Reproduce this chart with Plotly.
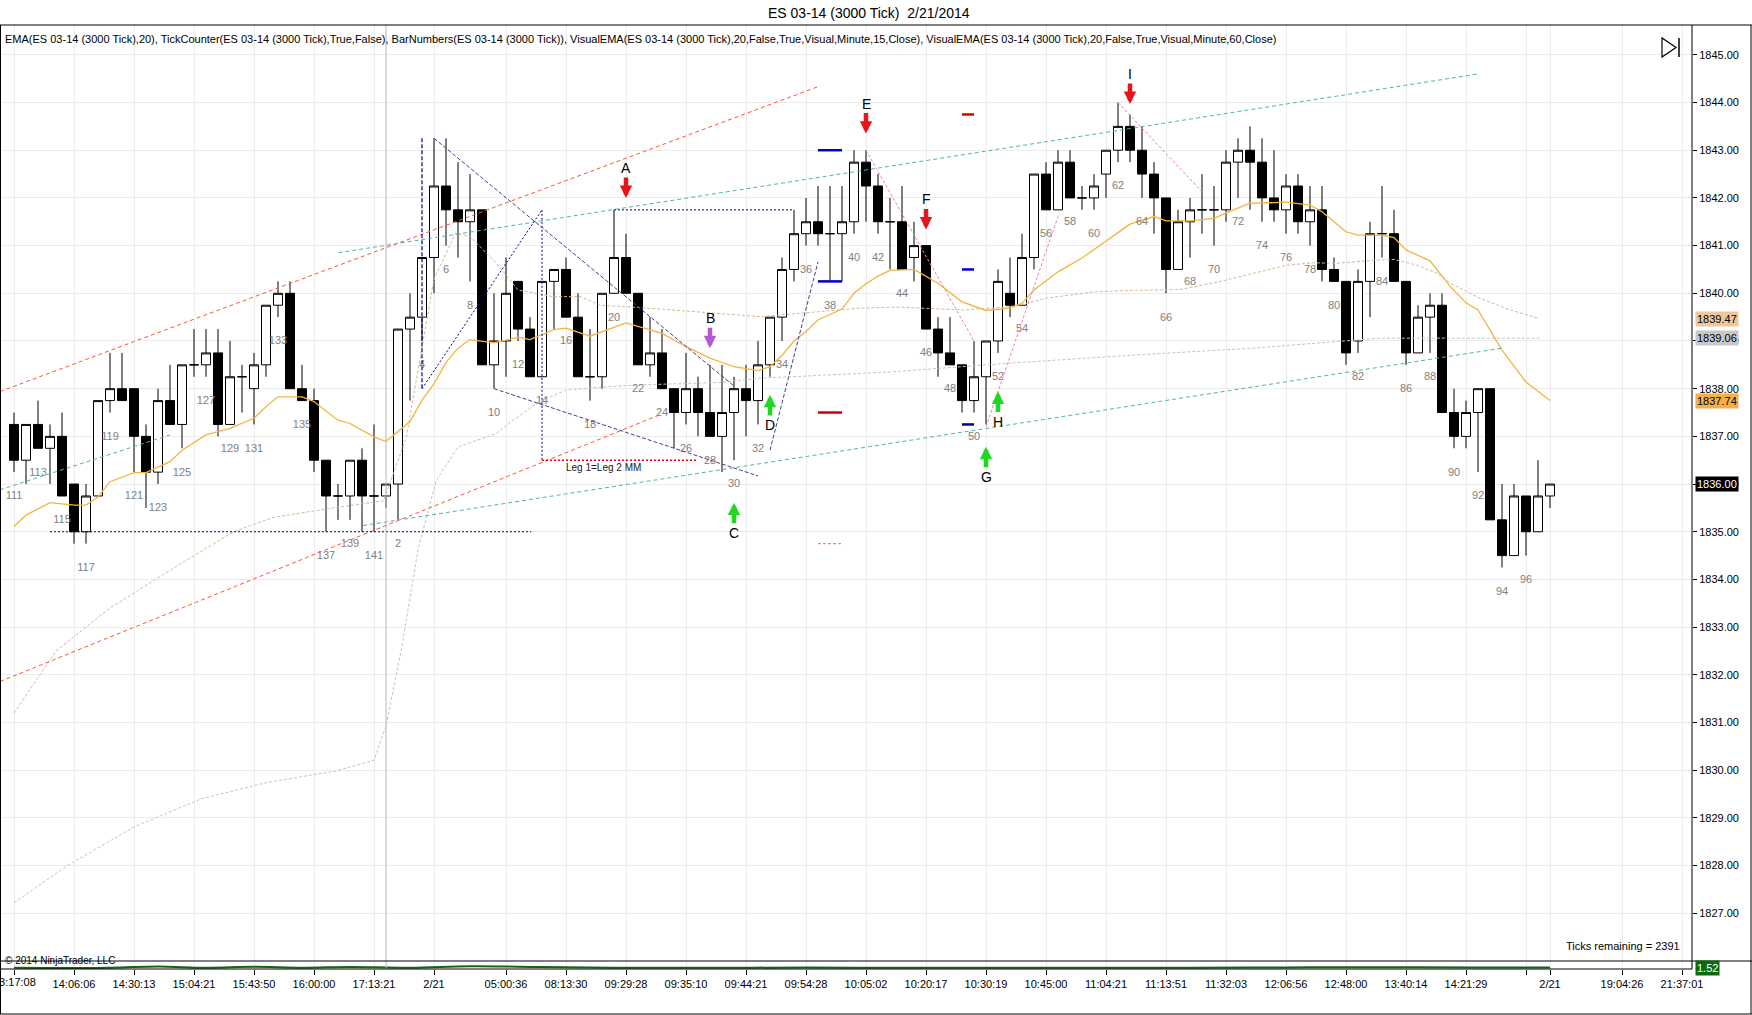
import plotly.graph_objects as go

# ---------------- data ----------------
bars = list(range(111, 142)) + list(range(1, 99))

opens = [1837.25, 1836.5, 1837.25, 1836.75, 1837.0, 1836.0, 1835.0, 1835.75, 1837.75, 1838.0,
         1838.0, 1837.0, 1836.25, 1837.75, 1837.25, 1838.5, 1838.5, 1838.75, 1837.25, 1838.25,
         1838.0, 1838.5, 1839.75, 1840.0, 1838.0, 1837.75, 1836.5, 1835.75, 1835.75, 1836.5, 1835.75,
         1835.75, 1836.0, 1839.25, 1839.5, 1840.75, 1842.25, 1841.75, 1841.5, 1841.75, 1838.5,
         1839.0, 1840.25, 1839.25, 1838.25, 1840.25, 1840.5, 1839.5, 1838.25, 1838.25, 1840.0,
         1840.75, 1840.0, 1838.5, 1838.75, 1838.0, 1837.5, 1838.0, 1837.5, 1837.0, 1837.5,
         1838.0, 1837.75, 1838.5, 1839.5, 1840.5, 1841.25, 1841.5, 1841.25, 1841.25, 1841.5,
         1842.75, 1842.25, 1841.5, 1841.5, 1840.75, 1841.0, 1839.25, 1838.75, 1838.5, 1837.75,
         1838.25, 1839.0, 1840.0, 1839.75, 1840.75, 1842.5, 1841.75, 1842.75, 1842.0, 1842.0,
         1842.5, 1843.0, 1843.5, 1843.0, 1842.5, 1842.0, 1840.5, 1841.5, 1841.75, 1841.75,
         1841.75, 1842.75, 1843.0, 1842.75, 1842.0, 1841.75, 1842.25, 1841.5, 1841.75, 1840.5,
         1840.25, 1839.0, 1840.25, 1841.25, 1841.25, 1840.25, 1838.75, 1839.5, 1839.75, 1837.5,
         1837.0, 1837.5, 1838.0, 1835.25, 1834.5, 1835.75, 1835.0, 1835.75]

highs = [1837.5, 1837.25, 1837.75, 1837.25, 1837.5, 1836.0, 1836.0, 1837.75, 1838.75, 1838.75,
         1838.0, 1837.25, 1838.0, 1838.5, 1838.5, 1839.25, 1839.25, 1839.25, 1839.0, 1838.5,
         1838.75, 1839.75, 1840.25, 1840.25, 1838.5, 1838.0, 1836.5, 1836.0, 1836.5, 1836.75, 1837.25,
         1836.0, 1839.25, 1840.0, 1840.75, 1843.25, 1843.25, 1842.75, 1842.5, 1841.75, 1840.0,
         1840.75, 1840.25, 1839.5, 1840.25, 1840.5, 1840.75, 1840.0, 1839.25, 1840.0, 1841.75,
         1841.25, 1840.0, 1839.5, 1839.25, 1838.0, 1838.75, 1838.25, 1838.5, 1838.5, 1838.25,
         1838.5, 1839.0, 1839.5, 1840.75, 1841.75, 1842.0, 1842.25, 1842.25, 1842.25, 1843.0,
         1843.0, 1842.5, 1842.0, 1842.25, 1841.5, 1841.0, 1839.5, 1839.5, 1838.5, 1839.0,
         1839.0, 1840.5, 1840.75, 1841.25, 1842.5, 1842.75, 1843.0, 1843.0, 1842.25, 1842.5,
         1843.0, 1844.0, 1843.75, 1843.5, 1842.75, 1842.0, 1841.75, 1842.0, 1842.5, 1842.25,
         1843.0, 1843.25, 1843.5, 1843.25, 1843.0, 1842.5, 1842.5, 1842.25, 1842.25, 1840.75,
         1840.25, 1840.5, 1841.5, 1842.25, 1841.75, 1840.25, 1839.75, 1840.0, 1840.0, 1838.0,
         1837.75, 1838.0, 1838.0, 1836.0, 1836.0, 1835.75, 1836.5, 1836.0]

lows = [1836.25, 1836.0, 1836.75, 1836.0, 1835.75, 1834.75, 1834.75, 1835.75, 1837.5, 1837.75,
        1836.25, 1835.5, 1836.0, 1837.25, 1836.75, 1838.25, 1838.25, 1837.0, 1837.25, 1837.5,
        1837.25, 1838.25, 1839.5, 1838.0, 1837.75, 1836.25, 1835.0, 1835.25, 1835.25, 1835.0, 1835.0,
        1835.5, 1835.25, 1837.75, 1839.0, 1840.0, 1841.0, 1840.75, 1840.25, 1838.5, 1838.0,
        1838.25, 1839.0, 1838.25, 1838.25, 1839.25, 1839.5, 1838.25, 1837.75, 1838.0, 1840.0,
        1840.0, 1838.5, 1838.25, 1838.0, 1836.75, 1837.25, 1837.0, 1837.0, 1836.25, 1836.5,
        1837.0, 1837.25, 1838.25, 1839.0, 1840.25, 1841.0, 1841.0, 1840.25, 1840.25, 1841.25,
        1841.5, 1841.25, 1840.5, 1840.5, 1840.25, 1839.25, 1838.25, 1838.5, 1837.5, 1837.5,
        1837.25, 1838.75, 1839.5, 1839.75, 1840.5, 1841.75, 1841.75, 1842.0, 1841.75, 1841.75,
        1842.0, 1842.75, 1842.75, 1842.0, 1841.25, 1840.0, 1840.5, 1840.75, 1841.25, 1841.0,
        1841.5, 1842.0, 1841.75, 1841.5, 1841.5, 1841.25, 1841.25, 1841.0, 1840.25, 1840.25,
        1838.5, 1838.75, 1839.5, 1840.75, 1840.25, 1838.5, 1838.75, 1838.75, 1837.5, 1836.75,
        1836.75, 1836.25, 1835.25, 1834.25, 1834.5, 1834.5, 1835.0, 1835.5]

closes = [1836.5, 1837.25, 1836.75, 1837.0, 1835.75, 1835.0, 1835.75, 1837.75, 1838.0, 1837.75,
          1837.0, 1836.25, 1837.75, 1837.25, 1838.5, 1838.5, 1838.75, 1837.25, 1838.25, 1838.25,
          1838.5, 1839.75, 1840.0, 1838.0, 1837.75, 1836.5, 1835.75, 1835.75, 1836.5, 1835.75, 1835.75,
          1836.0, 1839.25, 1839.5, 1840.75, 1842.25, 1841.75, 1841.5, 1841.75, 1838.5, 1839.0,
          1840.0, 1839.25, 1838.25, 1840.25, 1840.5, 1839.5, 1838.25, 1838.25, 1840.0, 1840.75,
          1840.0, 1838.5, 1838.75, 1838.0, 1837.5, 1838.0, 1837.5, 1837.0, 1837.5, 1838.0,
          1837.75, 1838.5, 1839.5, 1840.5, 1841.25, 1841.5, 1841.25, 1841.25, 1841.5, 1842.75,
          1842.25, 1841.5, 1841.5, 1840.5, 1841.0, 1839.25, 1838.75, 1838.5, 1837.75, 1838.25,
          1839.0, 1840.25, 1839.75, 1840.75, 1842.5, 1841.75, 1842.75, 1842.0, 1842.0, 1842.25,
          1843.0, 1843.5, 1843.0, 1842.5, 1842.0, 1840.5, 1841.5, 1841.75, 1841.75, 1841.75,
          1842.75, 1843.0, 1842.75, 1842.0, 1841.75, 1842.25, 1841.5, 1841.75, 1840.5, 1840.25,
          1838.75, 1840.25, 1841.25, 1841.25, 1840.25, 1838.75, 1839.5, 1839.75, 1837.5, 1837.0,
          1837.5, 1838.0, 1835.25, 1834.5, 1835.75, 1835.0, 1835.75, 1836.0]

# bar numbers printed under the bars
labelled_bars = list(range(111, 142, 2)) + list(range(2, 97, 2))

# EMA(20) (bar position, value)
ema_pos = [0, 1, 3, 5, 6, 7, 8, 10, 11, 13, 14, 16, 18, 20, 21, 22, 24, 25, 27, 28,
           30, 31, 33, 34, 35, 36, 37, 38, 40, 42, 43, 45, 46, 48, 51, 53, 54, 56, 58, 60,
           62, 63, 64, 65, 66, 67, 69, 70, 71, 72, 73, 75, 77, 79, 81, 83, 84, 85, 87, 89,
           91.6, 93, 95, 96, 98, 100, 101, 103, 105, 106, 108, 109, 111, 112, 114, 115, 116, 118, 119.7, 121,
           122, 124, 126, 128]
ema_val = [1835.11, 1835.35, 1835.61, 1835.56, 1835.56, 1835.73, 1836.05, 1836.24, 1836.24, 1836.47,
           1836.71, 1837.03, 1837.17, 1837.38, 1837.62, 1837.83, 1837.83, 1837.73, 1837.34, 1837.27,
           1836.99, 1836.89, 1837.31, 1837.76, 1838.1, 1838.55, 1838.85, 1839.03, 1838.96, 1839.08,
           1839.03, 1839.24, 1839.27, 1839.10, 1839.38, 1839.24, 1839.16, 1838.88, 1838.64, 1838.46,
           1838.38, 1838.46, 1838.70, 1839.0, 1839.2, 1839.44, 1839.67, 1840.0, 1840.2, 1840.36,
           1840.48, 1840.5, 1840.21, 1839.82, 1839.64, 1839.69, 1839.79, 1840.07, 1840.45, 1840.74,
           1841.19, 1841.45, 1841.61, 1841.52, 1841.52, 1841.57, 1841.68, 1841.89, 1841.90, 1841.91,
           1841.85, 1841.71, 1841.29, 1841.22, 1841.22, 1841.17, 1840.91, 1840.68, 1840.14, 1839.80,
           1839.65, 1838.81, 1838.14, 1837.75]

# VisualEMA 15 minute
ema15_pos = [0, 3.5, 8, 13.7, 18.3, 21.6, 26.6, 30.8, 32.7, 33.8, 35, 36.8, 38, 40.2, 42,
             44.9, 47.2, 48.8, 51, 54.9, 58.8, 62.2, 65.5, 70.5, 73.8, 79.1, 83.3, 86.1, 90, 93,
             97.2, 100.4, 103.3, 106.1, 108.3, 110.2, 113.8, 115, 116.9, 118.6, 119.7, 122.2, 124.7, 127.1]
ema15_val = [1831.2, 1832.5, 1833.4, 1834.3, 1835.0, 1835.3, 1835.5, 1835.65, 1836.99, 1838.6,
             1840.3, 1841.26, 1841.19, 1840.63, 1840.07, 1839.93, 1839.93, 1839.75, 1839.72, 1839.65,
             1839.58, 1839.51, 1839.58, 1839.69, 1839.71, 1839.65, 1839.72, 1839.9, 1840.03, 1840.06,
             1840.08, 1840.24, 1840.42, 1840.59, 1840.64, 1840.63, 1840.70, 1840.71, 1840.59, 1840.42,
             1840.21, 1839.89, 1839.65, 1839.47]

# VisualEMA 60 minute
ema60_pos = [0, 4.4, 10, 15.6, 21.2, 26.8, 30, 31, 32.3, 33.7, 35.2, 37, 40.2, 41.6, 43.8,
             46, 48.8, 52.2, 58.8, 62.2, 73, 82.7, 93, 103.3, 113.8, 127.1]
ema60_val = [1827.22, 1827.99, 1828.81, 1829.4, 1829.75, 1829.98, 1830.21, 1830.93, 1832.56, 1834.67,
             1836.08, 1836.78, 1837.06, 1837.34, 1837.73, 1837.97, 1838.03, 1838.08, 1838.13, 1838.22,
             1838.35, 1838.53, 1838.7, 1838.85, 1839.06, 1839.06]

# lower (TickCounter-like) panel line
low_pos = [0, 8, 12, 16, 20, 24, 28, 33, 38, 44, 50, 58, 66, 74, 82, 90, 98, 106, 114, 122, 128]
low_val = [1.50, 1.50, 1.60, 1.50, 1.58, 1.50, 1.57, 1.50, 1.62, 1.56, 1.50, 1.50, 1.52, 1.50,
           1.51, 1.50, 1.50, 1.53, 1.55, 1.52, 1.52]

# drawn trend lines: (bar0, price0, bar1, price1)
trend_lines = [
    (-1.17, 1837.94, 67.08, 1844.34),
    (-1.17, 1831.86, 54.0, 1837.47),
    (27.04, 1840.85, 122.0, 1844.60),
    (29.08, 1835.13, 124.0, 1838.85),
    (-1.17, 1835.88, 13.0, 1837.03),
    (3.0, 1835.0, 43.1, 1835.0),
    (50.0, 1841.75, 65.0, 1841.75),
    (44.0, 1841.75, 44.0, 1836.5),
    (34.0, 1843.25, 34.0, 1838.0),
    (34.0, 1838.0, 44.0, 1841.75),
    (44.0, 1836.5, 57.0, 1836.5),
    (35.0, 1843.25, 60.08, 1838.04),
    (40.0, 1838.0, 62.0, 1836.17),
    (63.0, 1836.71, 67.0, 1840.66),
    (71.0, 1843.0, 80.0, 1839.0),
    (81.0, 1837.2, 87.0, 1841.61),
    (92.0, 1844.0, 99.0, 1842.13),
    (67.0, 1843.0, 69.0, 1843.0),
    (67.0, 1840.25, 69.0, 1840.25),
    (67.0, 1837.5, 69.0, 1837.5),
    (67.0, 1834.75, 69.0, 1834.75),
    (79.0, 1843.75, 80.0, 1843.75),
    (79.0, 1840.5, 80.0, 1840.5),
    (79.0, 1837.25, 80.0, 1837.25),
]
trend_styles = [
    ('#ff5533', 1, '4px,3px'), ('#ff5533', 1, '4px,3px'),
    ('#55b0b0', 1, '4px,3px'), ('#55b0b0', 1, '4px,3px'), ('#55b0b0', 1, '4px,3px'),
    ('#000080', 1, '2px,2px'), ('#000080', 1, '2px,2px'), ('#000080', 1, '2px,2px'),
    ('#000080', 1.2, '4px,2px'), ('#000080', 1, '2px,2px'), ('#ff0000', 1.5, '2px,2px'),
    ('#483d8b', 1, '4px,2px'), ('#483d8b', 1, '4px,2px'), ('#483d8b', 1, '4px,2px'),
    ('#f07cc0', 1, '3px,2px'), ('#f07cc0', 1, '3px,2px'), ('#f07cc0', 1, '3px,2px'),
    ('#0000cd', 2.5, 'solid'), ('#0000cd', 2.5, 'solid'), ('#cc0000', 2.5, 'solid'),
    ('#f07cc0', 1.2, '3px,2px'),
    ('#dd0000', 2.5, 'solid'), ('#0000cd', 2.5, 'solid'), ('#000080', 2.5, 'solid'),
]

# signal arrows
sig_letters = ['A', 'B', 'C', 'D', 'E', 'F', 'G', 'H', 'I']
sig_bar = [51, 58, 60, 63, 71, 76, 81, 82, 93]
sig_price = [1842.0, 1838.85, 1835.61, 1837.87, 1843.35, 1841.34, 1836.78, 1837.94, 1843.97]
sig_dir = ['down', 'down', 'up', 'up', 'down', 'down', 'up', 'up', 'down']
sig_color = ['#e8141c', '#b05cd0', '#22d622', '#22d622', '#e8141c', '#e8141c', '#22d622', '#22d622', '#e8141c']

x_tick_pos = [0, 5, 10, 15, 20, 25, 30, 35, 41, 46, 51, 56, 61, 66, 71, 76, 81, 86, 91, 96,
              101, 106, 111, 116, 121, 126, 128, 134, 139]
x_tick_text = ['13:17:08', '14:06:06', '14:30:13', '15:04:21', '15:43:50', '16:00:00', '17:13:21',
               '2/21', '05:00:36', '08:13:30', '09:29:28', '09:35:10', '09:44:21', '09:54:28',
               '10:05:02', '10:20:17', '10:30:19', '10:45:00', '11:04:21', '11:13:51', '11:32:03',
               '12:06:56', '12:48:00', '13:40:14', '14:21:29', '', '2/21', '19:04:26', '21:37:01']

price_ticks = list(range(1827, 1846))

axis_tags = [1839.47, 1839.06, 1837.74, 1836.00]
axis_tag_bg = ['#eec89c', '#c8c8c8', '#f3b04a', '#000000']
axis_tag_fg = ['black', 'black', 'black', 'white']
session_break_bar = 31

# ---------------- figure ----------------
W, H = 1752, 1015
PL, PR, PT, PB = 0, 1692, 25, 969
PW, PH = PR - PL, PB - PT
FONT = 'Liberation Sans, Arial, sans-serif'


def fx(x):
    return (x - PL) / PW


def fy(y):
    return (PB - y) / PH


xi = list(range(len(bars)))
fig = go.Figure()

fig.add_trace(go.Scatter(x=ema60_pos, y=ema60_val, mode='lines',
                         line=dict(color='#c4c4c4', width=1, dash='3px,2px'),
                         hoverinfo='skip', showlegend=False))
fig.add_trace(go.Scatter(x=ema15_pos, y=ema15_val, mode='lines',
                         line=dict(color='#d8b894', width=1, dash='3px,2px'),
                         hoverinfo='skip', showlegend=False))

fig.add_trace(go.Candlestick(
    x=xi, open=opens, high=highs, low=lows, close=closes,
    increasing=dict(line=dict(color='black', width=1), fillcolor='white'),
    decreasing=dict(line=dict(color='black', width=1), fillcolor='black'),
    whiskerwidth=0, hoverinfo='skip', showlegend=False))

fig.add_trace(go.Scatter(x=ema_pos, y=ema_val, mode='lines',
                         line=dict(color='#f2b440', width=1.3),
                         hoverinfo='skip', showlegend=False))

# bar numbers
lab_x, lab_y, lab_t = [], [], []
for k, b in enumerate(bars):
    if b in labelled_bars and not (k > 30 and b > 100):
        lab_x.append(k)
        lab_y.append(lows[k] - 24.5 / 47.69)
        lab_t.append(str(b))
fig.add_trace(go.Scatter(x=lab_x, y=lab_y, text=lab_t, mode='text',
                         textfont=dict(family=FONT, size=11, color='#808080'),
                         hoverinfo='skip', showlegend=False))

for (b0, p0, b1, p1), (c, w, d) in zip(trend_lines, trend_styles):
    fig.add_trace(go.Scatter(x=[b0, b1], y=[p0, p1], mode='lines',
                             line=dict(color=c, width=w, dash=d),
                             hoverinfo='skip', showlegend=False))

fig.add_trace(go.Scatter(x=low_pos, y=low_val, mode='lines', xaxis='x', yaxis='y2',
                         line=dict(color='#0b6b0b', width=2, shape='spline'),
                         hoverinfo='skip', showlegend=False))

annotations = []
for L, b, p, d, c in zip(sig_letters, sig_bar, sig_price, sig_dir, sig_color):
    annotations.append(dict(x=b, y=p, xref='x', yref='y', text=L, showarrow=True,
                            ax=0, ay=(-30 if d == 'down' else 30),
                            arrowhead=2, arrowsize=0.55, arrowwidth=4.5, arrowcolor=c,
                            standoff=0, startstandoff=0,
                            font=dict(family=FONT, size=14, color='black')))

annotations.append(dict(x=49.1, y=1836.34, xref='x', yref='y', text='Leg 1=Leg 2 MM',
                        showarrow=False, font=dict(family=FONT, size=10, color='#202020')))

for v, bg, fg in zip(axis_tags, axis_tag_bg, axis_tag_fg):
    annotations.append(dict(x=1.0, xref='paper', xanchor='left', xshift=3, y=v, yref='y',
                            yanchor='middle', text='%.2f' % v, showarrow=False, bgcolor=bg,
                            borderpad=1, font=dict(family=FONT, size=11, color=fg)))
annotations.append(dict(x=1.0, xref='paper', xanchor='left', xshift=3, y=1.52, yref='y2',
                        yanchor='middle', text='1.52', showarrow=False, bgcolor='#0b6b0b',
                        borderpad=1, font=dict(family=FONT, size=11, color='white')))

annotations.append(dict(x=fx(869), y=fy(13), xref='paper', yref='paper', showarrow=False,
                        xanchor='center', yanchor='middle',
                        text='ES 03-14 (3000 Tick)\u00a0\u00a02/21/2014',
                        font=dict(family=FONT, size=14, color='black')))
annotations.append(dict(x=fx(3), y=fy(39), xref='paper', yref='paper', xanchor='left',
                        yanchor='middle', showarrow=False,
                        text='EMA(ES 03-14 (3000 Tick),20), TickCounter(ES 03-14 (3000 Tick),True,False), '
                             'BarNumbers(ES 03-14 (3000 Tick)), VisualEMA(ES 03-14 (3000 Tick),20,False,True,'
                             'Visual,Minute,15,Close), VisualEMA(ES 03-14 (3000 Tick),20,False,True,Visual,'
                             'Minute,60,Close)',
                        font=dict(family=FONT, size=11, color='black')))
annotations.append(dict(x=fx(1682), y=fy(946), xref='paper', yref='paper', xanchor='right',
                        yanchor='middle', showarrow=False, text='Ticks remaining = 2391',
                        font=dict(family=FONT, size=11, color='black')))
annotations.append(dict(x=fx(3), y=fy(960), xref='paper', yref='paper', xanchor='left',
                        yanchor='middle', showarrow=False, text='\u00a9 2014 NinjaTrader, LLC',
                        font=dict(family=FONT, size=10, color='black')))
# first time label, partly cut by the left edge of the chart
annotations.append(dict(x=x_tick_pos[0], xref='x', y=fy(982), yref='paper', xanchor='center',
                        yanchor='middle', showarrow=False, text=x_tick_text[0],
                        font=dict(family=FONT, size=11, color='black')))
x_tick_text_axis = [''] + x_tick_text[1:]

shapes = [
    dict(type='line', xref='x', yref='paper', x0=session_break_bar, x1=session_break_bar,
         y0=0, y1=1, line=dict(color='#b8b8b8', width=1)),
    dict(type='line', xref='paper', yref='paper', x0=0, x1=fx(W), y0=1, y1=1,
         line=dict(color='black', width=1)),
    dict(type='line', xref='paper', yref='paper', x0=fx(0.5), x1=fx(0.5), y0=fy(1014), y1=1,
         line=dict(color='black', width=1)),
    dict(type='line', xref='paper', yref='paper', x0=fx(W - 1), x1=fx(W - 1), y0=fy(1014), y1=1,
         line=dict(color='black', width=1)),
    dict(type='line', xref='paper', yref='paper', x0=0, x1=fx(W), y0=fy(1014), y1=fy(1014),
         line=dict(color='black', width=1)),
    dict(type='line', xref='paper', yref='paper', x0=0, x1=fx(W), y0=fy(961), y1=fy(961),
         line=dict(color='black', width=1)),
    dict(type='line', xref='paper', yref='paper', x0=0, x1=1, y0=0, y1=0,
         line=dict(color='black', width=1)),
    dict(type='line', xref='paper', yref='paper', x0=1, x1=1, y0=0, y1=1,
         line=dict(color='black', width=1)),
    # "scroll to last bar" icon
    dict(type='path', xref='paper', yref='paper',
         path='M %f %f L %f %f L %f %f Z' % (fx(1662), fy(38), fx(1662), fy(57), fx(1676), fy(47.5)),
         line=dict(color='black', width=1.2), fillcolor='rgba(0,0,0,0)'),
    dict(type='line', xref='paper', yref='paper', x0=fx(1679), x1=fx(1679), y0=fy(38), y1=fy(57),
         line=dict(color='black', width=1.5)),
]

fig.update_layout(
    width=W, height=H, autosize=False,
    margin=dict(l=PL, r=W - PR, t=PT, b=H - PB, pad=0),
    paper_bgcolor='white', plot_bgcolor='white',
    showlegend=False, hovermode=False,
    boxgap=0.25, boxgroupgap=0,
    font=dict(family=FONT, size=11, color='black'),
    xaxis=dict(range=[-14 / 12, (PR - 14) / 12], anchor='y2',
               tickvals=x_tick_pos, ticktext=x_tick_text_axis,
               showgrid=True, gridcolor='#ececec', gridwidth=1, zeroline=False,
               ticks='outside', ticklen=5, tickcolor='black', showline=False,
               tickfont=dict(family=FONT, size=11, color='black'),
               rangeslider=dict(visible=False), fixedrange=True),
    yaxis=dict(domain=[8 / PH, 1], range=[1845 - (961 - 54.85) / 47.69, 1845 + (54.85 - 25) / 47.69],
               side='right', anchor='x', tickvals=price_ticks,
               ticktext=['%.2f' % p for p in price_ticks],
               showgrid=True, gridcolor='#ececec', gridwidth=1, zeroline=False,
               ticks='outside', ticklen=4, tickcolor='black', showline=False,
               tickfont=dict(family=FONT, size=11, color='black'), fixedrange=True),
    yaxis2=dict(domain=[0, 8 / PH], range=[1.4, 2.05], side='right', anchor='x',
                showticklabels=False, showgrid=False, zeroline=False, ticks='', fixedrange=True),
    annotations=annotations,
    shapes=shapes,
)

fig.write_html("out.html", config={'displayModeBar': False},
               post_script="document.body.style.margin='0px';document.body.style.overflow='hidden';")
